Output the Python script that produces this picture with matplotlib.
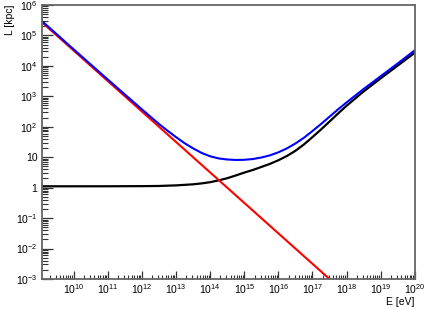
import numpy as np
import matplotlib
matplotlib.use("Agg")
import matplotlib.pyplot as plt
from matplotlib.ticker import LogLocator, FixedLocator, FuncFormatter, NullFormatter

plt.rcParams["font.family"] = ["Liberation Sans", "DejaVu Sans"]
plt.rcParams["mathtext.fontset"] = "custom"
plt.rcParams["mathtext.rm"] = "Liberation Sans"
plt.rcParams["mathtext.it"] = "Liberation Sans:italic"

# ── values (log10 E [eV], log10 L [kpc]) ─────────────────────────────────────
red_logE = [9.06, 12.0, 14.23, 17.51]
red_logL = [5.44, 2.50, 0.27, -3.01]

black_logE = [9.06, 10.0, 11.0, 12.0, 12.5, 13.0, 13.5, 13.75, 14.0, 14.25,
              14.5, 14.75, 15.0, 15.25, 15.5, 15.75, 16.0, 16.25, 16.5,
              16.75, 17.0, 17.25, 17.5, 17.75, 18.0, 18.5, 19.0, 19.5, 20.0]
black_logL = [0.045, 0.045, 0.046, 0.05, 0.056, 0.075, 0.11, 0.14, 0.18, 0.24,
              0.31, 0.40, 0.495, 0.58, 0.68, 0.78, 0.90, 1.04, 1.21,
              1.42, 1.66, 1.91, 2.17, 2.435, 2.69, 3.16, 3.59, 4.01, 4.43]

blue_logE = [9.06, 10.0, 11.0, 11.5, 12.0, 12.25, 12.5, 12.75, 13.0, 13.25,
             13.5, 13.75, 14.0, 14.25, 14.5, 14.75, 15.0, 15.25, 15.5, 15.75,
             16.0, 16.25, 16.5, 16.75, 17.0, 17.25, 17.5, 17.75, 18.0, 18.5,
             19.0, 19.5, 20.0]
blue_logL = [5.48, 4.54, 3.55, 3.06, 2.57, 2.33, 2.09, 1.87, 1.66, 1.46,
             1.29, 1.14, 1.03, 0.96, 0.925, 0.91, 0.915, 0.94, 0.99, 1.06,
             1.16, 1.29, 1.45, 1.64, 1.86, 2.09, 2.33, 2.57, 2.80, 3.24,
             3.66, 4.08, 4.51]

X_MIN, X_MAX = 10 ** 9.06, 1e20
Y_MIN, Y_MAX = 1e-3, 1e6


def ylabel_fmt(v, pos):
    e = int(round(np.log10(v)))
    if e == 0:
        return "1"
    if e == 1:
        return "10"
    return r"$10^{%d}$" % e


def xlabel_fmt(v, pos):
    e = int(round(np.log10(v)))
    return r"$10^{%d}$" % e


fig = plt.figure(figsize=(4.25, 3.09), dpi=100)
ax = fig.add_axes([0.098, 0.097, 0.878, 0.887])

ax.plot(10 ** np.array(black_logE), 10 ** np.array(black_logL),
        color="black", lw=1.6)
ax.plot(10 ** np.array(red_logE), 10 ** np.array(red_logL),
        color="#ff0000", lw=1.5)
ax.plot(10 ** np.array(blue_logE), 10 ** np.array(blue_logL),
        color="#0000ff", lw=1.5)

ax.set_xscale("log")
ax.set_yscale("log")
ax.set_xlim(X_MIN, X_MAX)
ax.set_ylim(Y_MIN, Y_MAX)

ax.xaxis.set_major_locator(FixedLocator([10.0 ** k for k in range(10, 21)]))
ax.xaxis.set_minor_locator(LogLocator(base=10, subs=np.arange(2, 10), numticks=30))
ax.yaxis.set_major_locator(FixedLocator([10.0 ** k for k in range(-3, 7)]))
ax.yaxis.set_minor_locator(LogLocator(base=10, subs=np.arange(2, 10), numticks=30))
ax.xaxis.set_major_formatter(FuncFormatter(xlabel_fmt))
ax.yaxis.set_major_formatter(FuncFormatter(ylabel_fmt))
ax.xaxis.set_minor_formatter(NullFormatter())
ax.yaxis.set_minor_formatter(NullFormatter())

frame = "#666666"
for s in ax.spines.values():
    s.set_color(frame)
    s.set_linewidth(1.3)

ax.tick_params(axis="x", which="major", direction="in", length=6, width=0.9,
               color="#333333", labelsize=7.5, pad=2.5)
ax.tick_params(axis="x", which="minor", direction="in", length=3, width=0.8,
               color="#333333")
ax.tick_params(axis="y", which="major", direction="in", length=8, width=0.9,
               color="#333333", labelsize=7.5, pad=3)
ax.tick_params(axis="y", which="minor", direction="in", length=4, width=0.8,
               color="#333333")
ax.tick_params(top=False, right=False, which="both")

fig.text(0.976, 0.008, "E [eV]", ha="right", va="bottom", fontsize=7.5)
fig.text(0.012, 0.984, "L [kpc]", ha="left", va="top", fontsize=7.5,
         rotation=90)

fig.savefig("out.png", dpi=100)
